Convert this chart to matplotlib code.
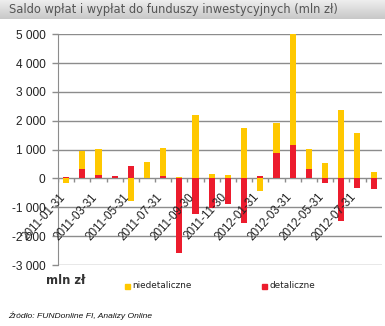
import numpy as np
import matplotlib
matplotlib.use('Agg')
import matplotlib.pyplot as plt

# month-end dates, 2011-01 .. 2012-08
months = ['2011-01-31', '2011-02-28', '2011-03-31', '2011-04-30', '2011-05-31',
          '2011-06-30', '2011-07-31', '2011-08-31', '2011-09-30', '2011-10-31',
          '2011-11-30', '2011-12-31', '2012-01-31', '2012-02-29', '2012-03-31',
          '2012-04-30', '2012-05-31', '2012-06-30', '2012-07-31', '2012-08-31']

# mln zl
detaliczne = [45, 325, 115, 80, 430, 0, 80, -2600, -1230, -1020,
              -880, -1540, 95, 890, 1170, 335, -165, -1475, -340, -370]
niedetaliczne = [-165, 625, 905, 0, -780, 580, 975, 45, 2200, 150,
                 120, 1750, -430, 1030, 3830, 685, 540, 2390, 1585, 230]

yticks = [5000, 4000, 3000, 2000, 1000, 0, -1000, -2000, -3000]
ytick_labels = ['5 000', '4 000', '3 000', '2 000', '1 000', '0', '-1 000', '-2 000', '-3 000']

YELLOW = '#ffc800'
RED = '#ec1c2d'
GRID = '#8c8c8c'

fig = plt.figure(figsize=(3.85, 3.26), dpi=100)

'''TITLE BAR'''
bar = fig.add_axes([0, 1 - 19 / 326, 1, 19 / 326])
grad = np.linspace(0, 1, 50).reshape(-1, 1)
bar.imshow(grad, aspect='auto', cmap=matplotlib.colors.LinearSegmentedColormap.from_list('g', ['#eeeeee', '#c8c8c8']),
           extent=[0, 1, 0, 1], origin='upper')
bar.set_axis_off()
fig.text(9 / 385, 1 - 9 / 326, 'Saldo wpłat i wypłat do funduszy inwestycyjnych (mln zł)',
         fontsize=8.3, color='#555555', family='DejaVu Sans', va='center', ha='left')

'''BARS'''
ax = fig.add_axes([58 / 385, 1 - 265 / 326, (381.7 - 58) / 385, (265 - 34.3) / 326])
x = np.arange(len(months))
det = np.array(detaliczne)
nie = np.array(niedetaliczne)
bottom_nie = np.where(np.sign(det) == np.sign(nie), det, 0)
ax.bar(x, det, width=0.38, color=RED, zorder=3)
ax.bar(x, nie, width=0.38, bottom=bottom_nie, color=YELLOW, zorder=3)

ax.set_xlim(-0.5, len(months) - 0.5)
ax.set_ylim(-3000, 5000)
ax.set_yticks(yticks)
ax.set_yticklabels(ytick_labels, fontsize=8.6, family='Liberation Sans', color='#222222')
ax.tick_params(axis='y', length=4, color=GRID, pad=5, width=1)
ax.grid(axis='y', color=GRID, lw=1, zorder=1)
for s in ['top', 'right', 'bottom']:
    ax.spines[s].set_visible(False)
ax.spines['left'].set_color(GRID)

# category boundary ticks on the zero line
ax.set_xticks([])
ax.vlines(np.arange(len(months)) - 0.5, -110, 0, color=GRID, lw=1, zorder=2)

# date labels written inside the plot, every second month
for i in range(0, len(months), 2):
    ax.annotate(months[i], xy=(i, 0), xytext=(1, -9), textcoords='offset points',
                rotation=48, ha='right', va='top', fontsize=8.4,
                family='Liberation Sans', color='#222222', zorder=4)

'''FOOTER'''
fig.text(46 / 385, 1 - 280 / 326, 'mln zł', fontsize=8.3, fontweight='bold', color='#333333',
         family='DejaVu Sans', va='center')
fig.patches.append(plt.Rectangle((125 / 385, 1 - 289 / 326), 5 / 385, 5 / 326,
                                 transform=fig.transFigure, color=YELLOW, figure=fig))
fig.text(132 / 385, 1 - 286 / 326, 'niedetaliczne', fontsize=6.4, color='#222222',
         family='DejaVu Sans', va='center')
fig.patches.append(plt.Rectangle((262 / 385, 1 - 289 / 326), 5 / 385, 5 / 326,
                                 transform=fig.transFigure, color=RED, figure=fig))
fig.text(269 / 385, 1 - 286 / 326, 'detaliczne', fontsize=6.4, color='#222222',
         family='DejaVu Sans', va='center')
fig.text(8 / 385, 1 - 316 / 326, 'Źródło: FUNDonline FI, Analizy Online', fontsize=6.1,
         style='italic', color='#111111', family='Liberation Sans', va='center')

fig.savefig('out.png', dpi=100)
